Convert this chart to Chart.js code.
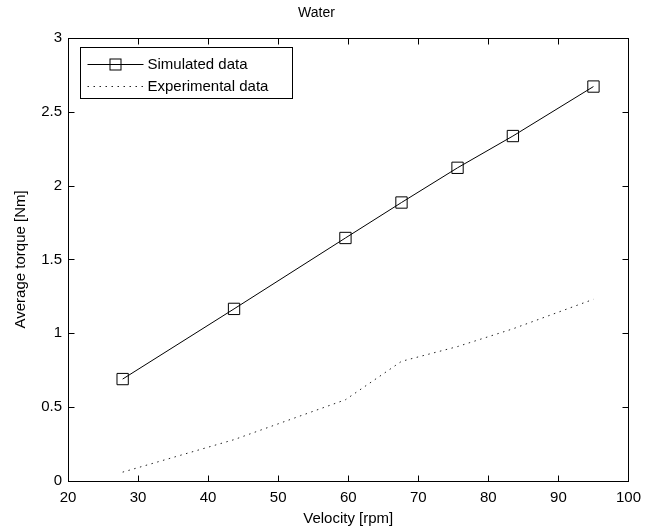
<!DOCTYPE html>
<html>
<head>
<meta charset="utf-8">
<title>Water</title>
<script src="https://cdn.jsdelivr.net/npm/chart.js@4.4.0/dist/chart.umd.min.js"></script>
<style>
  html, body { margin: 0; padding: 0; background: #fff; }
</style>
</head>
<body>
<canvas id="torqueChart" width="649" height="531"></canvas>
<script>
// Values
const velocity = [27.8, 43.7, 59.6, 67.6, 75.6, 83.5, 95.0];
const simulatedTorque = [0.69, 1.165, 1.645, 1.885, 2.12, 2.335, 2.67];
const experimentalTorque = [0.06, 0.28, 0.55, 0.81, 0.91, 1.03, 1.23];
const xTicks = [20, 30, 40, 50, 60, 70, 80, 90, 100];
const yTicks = [0, 0.5, 1, 1.5, 2, 2.5, 3];

const FONT = '"Liberation Sans", Arial, sans-serif';
const TICK_LEN = 6;

// MATLAB style box with inward ticks plus a boxed legend in the top-left corner
const matlabAxes = {
    id: 'matlabAxes',
    afterDatasetsDraw(chart) {
        const { ctx, chartArea: a, scales } = chart;
        ctx.save();
        ctx.strokeStyle = '#000';
        ctx.lineWidth = 1;
        ctx.setLineDash([]);

        const L = Math.round(a.left) + 0.5, R = Math.round(a.right) + 0.5;
        const T = Math.round(a.top) + 0.5, B = Math.round(a.bottom) + 0.5;
        ctx.strokeRect(L, T, R - L, B - T);

        ctx.beginPath();
        scales.x.ticks.forEach(t => {
            const px = Math.round(scales.x.getPixelForValue(t.value)) + 0.5;
            ctx.moveTo(px, B); ctx.lineTo(px, B - TICK_LEN);
            ctx.moveTo(px, T); ctx.lineTo(px, T + TICK_LEN);
        });
        scales.y.ticks.forEach(t => {
            const py = Math.round(scales.y.getPixelForValue(t.value)) + 0.5;
            ctx.moveTo(L, py); ctx.lineTo(L + TICK_LEN, py);
            ctx.moveTo(R, py); ctx.lineTo(R - TICK_LEN, py);
        });
        ctx.stroke();

        // legend
        const bx = L + 12, by = T + 9, bw = 212, bh = 51;
        ctx.fillStyle = '#fff';
        ctx.fillRect(bx, by, bw, bh);
        ctx.strokeRect(bx, by, bw, bh);
        ctx.font = '15px ' + FONT;
        ctx.textBaseline = 'middle';
        chart.data.datasets.forEach((ds, i) => {
            const rowY = Math.round(by + 16 + i * 22) + 0.5;
            ctx.strokeStyle = ds.borderColor;
            ctx.lineWidth = ds.borderWidth;
            ctx.setLineDash(ds.borderDash || []);
            ctx.beginPath();
            ctx.moveTo(bx + 7, rowY);
            ctx.lineTo(bx + 63, rowY);
            ctx.stroke();
            ctx.setLineDash([]);
            if (ds.pointRadius > 0) {
                const s = 5.5;
                ctx.strokeRect(bx + 35 - s, rowY - s, 2 * s, 2 * s);
            }
            ctx.fillStyle = '#000';
            ctx.fillText(ds.label, bx + 67, rowY);
        });
        ctx.restore();
    }
};

const ctxTorque = document.getElementById('torqueChart').getContext('2d');

new Chart(ctxTorque, {
    type: 'line',
    data: {
        datasets: [{
            label: 'Simulated data',
            data: velocity.map((v, i) => ({ x: v, y: simulatedTorque[i] })),
            borderColor: '#000',
            borderWidth: 1,
            pointStyle: 'rect',
            pointRadius: 8,
            pointBorderColor: '#000',
            pointBorderWidth: 1,
            pointBackgroundColor: 'rgba(0,0,0,0)',
            tension: 0,
            fill: false
        }, {
            label: 'Experimental data',
            data: velocity.map((v, i) => ({ x: v, y: experimentalTorque[i] })),
            borderColor: '#222',
            borderWidth: 1,
            borderDash: [1.5, 4.5],
            pointRadius: 0,
            tension: 0,
            fill: false
        }]
    },
    options: {
        responsive: false,
        animation: false,
        layout: { padding: { left: 0, right: 16, top: 0, bottom: 0 } },
        plugins: {
            legend: { display: false },
            tooltip: { enabled: false },
            title: {
                display: true,
                text: 'Water',
                color: '#000',
                font: { family: FONT, size: 14, weight: 'normal' },
                padding: { top: 5, bottom: 16 }
            }
        },
        scales: {
            x: {
                type: 'linear',
                min: 20,
                max: 100,
                afterBuildTicks: s => { s.ticks = xTicks.map(v => ({ value: v })); },
                afterFit: s => { s.height = 50; },
                grid: { display: false, drawTicks: false },
                border: { display: false },
                ticks: {
                    color: '#000', font: { family: FONT, size: 15 }, padding: 8,
                    maxRotation: 0, autoSkip: false, callback: v => String(v)
                },
                title: {
                    display: true,
                    text: 'Velocity [rpm]',
                    color: '#000',
                    font: { family: FONT, size: 15 },
                    padding: { top: 0, bottom: 3 }
                }
            },
            y: {
                min: 0,
                max: 3,
                afterBuildTicks: s => { s.ticks = yTicks.map(v => ({ value: v })); },
                afterFit: s => { s.width = 68; },
                grid: { display: false, drawTicks: false },
                border: { display: false },
                ticks: {
                    color: '#000', font: { family: FONT, size: 15 }, padding: 6,
                    autoSkip: false, callback: v => String(v)
                },
                title: {
                    display: true,
                    text: 'Average torque [Nm]',
                    color: '#000',
                    font: { family: FONT, size: 15 },
                    padding: { top: 12, bottom: 0 }
                }
            }
        }
    },
    plugins: [matlabAxes]
});
</script>
</body>
</html>
